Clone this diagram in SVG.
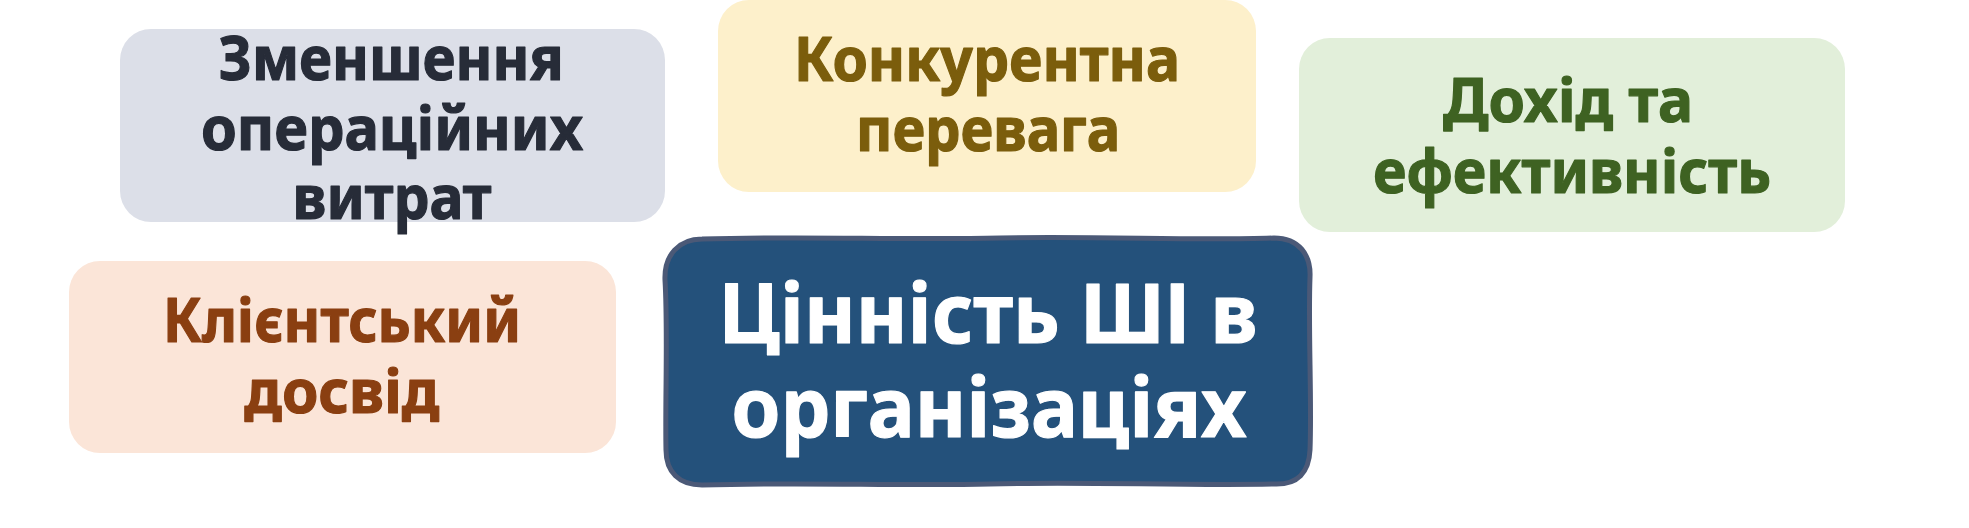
<svg xmlns="http://www.w3.org/2000/svg" width="1969" height="528" viewBox="0 0 1969 528">
  <style>
    .lbl { font-family: "Noto Sans", "Open Sans", "DejaVu Sans", sans-serif; font-weight: 700; font-size: 61px; text-anchor: middle; stroke-width: 1.2px; stroke-linejoin: round; }
    .big { font-size: 83px; fill: #ffffff; stroke: #ffffff; }
    .c-gray { fill: #272c38; stroke: #272c38; }
    .c-brown { fill: #8a3f11; stroke: #8a3f11; }
    .c-olive { fill: #7b5d0c; stroke: #7b5d0c; }
    .c-green { fill: #3e6222; stroke: #3e6222; }
  </style>
  <rect x="0" y="0" width="1969" height="528" fill="#ffffff"/>
  <g id="connectors"/>
  <g id="node-costs">
    <rect x="120" y="29" width="545" height="193" rx="31" fill="#dcdfe8"/>
    <text class="lbl c-gray" x="391" y="80" textLength="345" lengthAdjust="spacingAndGlyphs">Зменшення</text>
    <text class="lbl c-gray" x="392" y="150" textLength="382" lengthAdjust="spacingAndGlyphs">операційних</text>
    <text class="lbl c-gray" x="392" y="219" textLength="199" lengthAdjust="spacingAndGlyphs">витрат</text>
  </g>
  <g id="node-customer">
    <rect x="69" y="261" width="547" height="192" rx="31" fill="#fbe5d8"/>
    <text class="lbl c-brown" x="342" y="342" textLength="358" lengthAdjust="spacingAndGlyphs">Клієнтський</text>
    <text class="lbl c-brown" x="342" y="413" textLength="195" lengthAdjust="spacingAndGlyphs">досвід</text>
  </g>
  <g id="node-competitive">
    <rect x="718" y="0" width="538" height="192" rx="31" fill="#fdf0cb"/>
    <text class="lbl c-olive" x="987" y="81" textLength="386" lengthAdjust="spacingAndGlyphs">Конкурентна</text>
    <text class="lbl c-olive" x="988" y="151" textLength="264" lengthAdjust="spacingAndGlyphs">перевага</text>
  </g>
  <g id="node-revenue">
    <rect x="1299" y="38" width="546" height="194" rx="31" fill="#e2efda"/>
    <text class="lbl c-green" x="1568" y="122" textLength="250" lengthAdjust="spacingAndGlyphs">Дохід та</text>
    <text class="lbl c-green" x="1572" y="193" textLength="398" lengthAdjust="spacingAndGlyphs">ефективність</text>
  </g>
  <g id="node-center">
    <path d="M 702,239 C 800,236 900,240 1000,238 C 1100,236 1200,241 1274,238 C 1299,238 1311,255 1310,277 C 1308,330 1312,400 1310,450 C 1309,472 1298,485 1274,484 C 1180,486 1080,481 990,484 C 900,486 800,482 702,485 C 679,485 666,472 666,450 C 665,400 668,330 665,280 C 664,255 679,239 702,239 Z" fill="#24517b" stroke="#4b5977" stroke-width="5" stroke-linejoin="round"/>
    <text class="lbl big" x="988" y="343" textLength="539" lengthAdjust="spacingAndGlyphs">Цінність ШІ в</text>
    <text class="lbl big" x="989" y="437" textLength="515" lengthAdjust="spacingAndGlyphs">організаціях</text>
  </g>
</svg>
